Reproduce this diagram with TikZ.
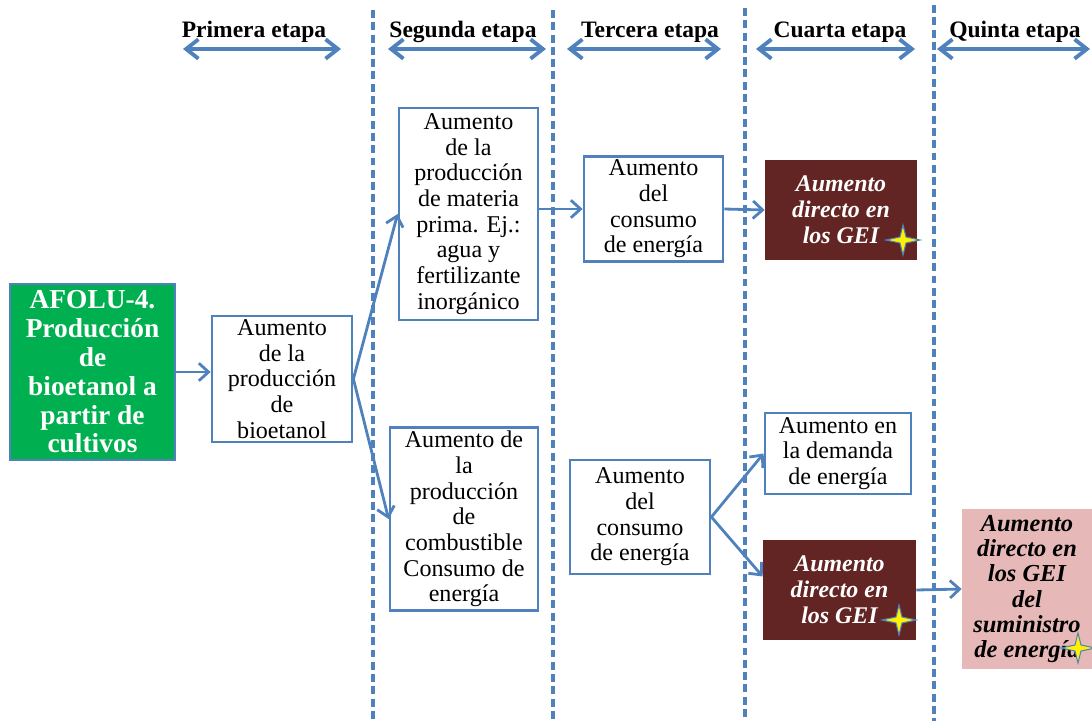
\documentclass[tikz,border=0pt]{standalone}
\usepackage{fontspec}
\setmainfont{Liberation Serif}
\usetikzlibrary{arrows.meta}
\definecolor{lineblue}{HTML}{4F81BD}
\definecolor{cropgreen}{HTML}{00B050}
\definecolor{geired}{HTML}{632523}
\definecolor{geipink}{HTML}{E6B9B8}

\begin{document}
\begin{tikzpicture}[x=0.02cm, y=-0.02cm,
    box/.style={draw=lineblue, line width=1.6pt, fill=white, align=center, inner sep=2pt,
        font=\fontsize{13.7}{14.6}\selectfont},
    geibox/.style={fill=geired, text=white, align=center, inner sep=2pt,
        font=\fontsize{13.6}{14.7}\selectfont\bfseries\itshape},
    link/.style={draw=lineblue, line width=1.6pt, -{Straight Barb[length=5.5pt,width=10pt]}},
    span/.style={draw=lineblue, line width=2.2pt,
        {Straight Barb[length=7pt,width=11pt]}-{Straight Barb[length=7pt,width=11pt]}},
    divider/.style={draw=lineblue, line width=2pt, dash pattern=on 4.5pt off 2.5pt},
    stagehead/.style={font=\fontsize{13.4}{14}\selectfont\bfseries},
    spark/.pic={\filldraw[fill=yellow, draw=lineblue, line width=0.6pt]
        (0,-15) -- (3,-3) -- (17,0) -- (3,3) -- (0,15) -- (-3,3) -- (-17,0) -- (-3,-3) -- cycle;}]

    \useasboundingbox (0,0) rectangle (1092,721);

    \node[stagehead] (h1) at (254,32) {Primera etapa};
    \node[stagehead] (h2) at (463,32) {Segunda etapa};
    \node[stagehead] (h3) at (650,32) {Tercera etapa};
    \node[stagehead] (h4) at (840,32) {Cuarta etapa};
    \node[stagehead] (h5) at (1015,32) {Quinta etapa};

    \draw[span] (183,49) -- (341,49);
    \draw[span] (388,49) -- (546,49);
    \draw[span] (567,49) -- (721,49);
    \draw[span] (756,49) -- (915,49);
    \draw[span] (937,49) -- (1090,49);

    \draw[divider] (373,10) -- (373,721);
    \draw[divider] (553,10) -- (553,721);
    \draw[divider] (745,8) -- (745,721);
    \draw[divider] (934,5) -- (934,721);

    \node[draw=lineblue, line width=0.8pt, fill=cropgreen, text=white, align=center,
        minimum width=3.30cm, minimum height=3.52cm,
        font=\fontsize{15.6}{16.4}\selectfont\bfseries] (afolu) at (92.5,372)
        {AFOLU-4.\\Producción\\de\\bioetanol a\\partir de\\cultivos};

    \node[box, minimum width=2.80cm, minimum height=2.52cm] (bio) at (282,379)
        {Aumento\\de la\\producción\\de\\bioetanol};

    \node[box, minimum width=2.78cm, minimum height=4.24cm] (prima) at (468.5,214)
        {Aumento\\de la\\producción\\de materia\\prima. Ej.:\\agua y\\fertilizante\\inorgánico};
    \node[box, minimum width=2.96cm, minimum height=3.48cm] (fuel) at (464,519)
        {Aumento de\\la\\producción\\de\\combustible\\Consumo de\\energía};

    \node[box, minimum width=2.78cm, minimum height=2.04cm] (energy1) at (653.5,209)
        {Aumento\\del\\consumo\\de energía};
    \node[box, minimum width=2.80cm, minimum height=2.28cm] (energy2) at (640,517)
        {Aumento\\del\\consumo\\de energía};

    \node[geibox, minimum width=3.04cm, minimum height=2.00cm] (gei1) at (841,210)
        {Aumento\\directo en\\los GEI};
    \node[box, minimum width=2.92cm, minimum height=1.62cm] (demand) at (838,453.5)
        {Aumento en\\la demanda\\de energía};
    \node[geibox, minimum width=3.06cm, minimum height=2.00cm] (gei2) at (839.5,590)
        {Aumento\\directo en\\los GEI};

    \node[fill=geipink, align=center, minimum width=2.60cm, minimum height=3.12cm,
        font=\fontsize{13.9}{14.4}\selectfont\bfseries\itshape] (supply) at (1027,589)
        {Aumento\\directo en\\los GEI\\del\\suministro\\de energía};

    \pic at (903,240) {spark};
    \pic at (899,620) {spark};
    \pic at (1078,648) {spark};

    \draw[link] (afolu.east) -- (afolu.east -| bio.west);
    \draw[link] (bio.east) -- (prima.west);
    \draw[link] (bio.east) -- (fuel.west);
    \draw[link] (prima.east |- energy1.west) -- (energy1.west);
    \draw[link] (energy1.east) -- (gei1.west);
    \draw[link] (energy2.east) -- (demand.west);
    \draw[link] (energy2.east) -- (gei2.170);
    \draw[link] (gei2.east) -- (supply.west);
\end{tikzpicture}
\end{document}
